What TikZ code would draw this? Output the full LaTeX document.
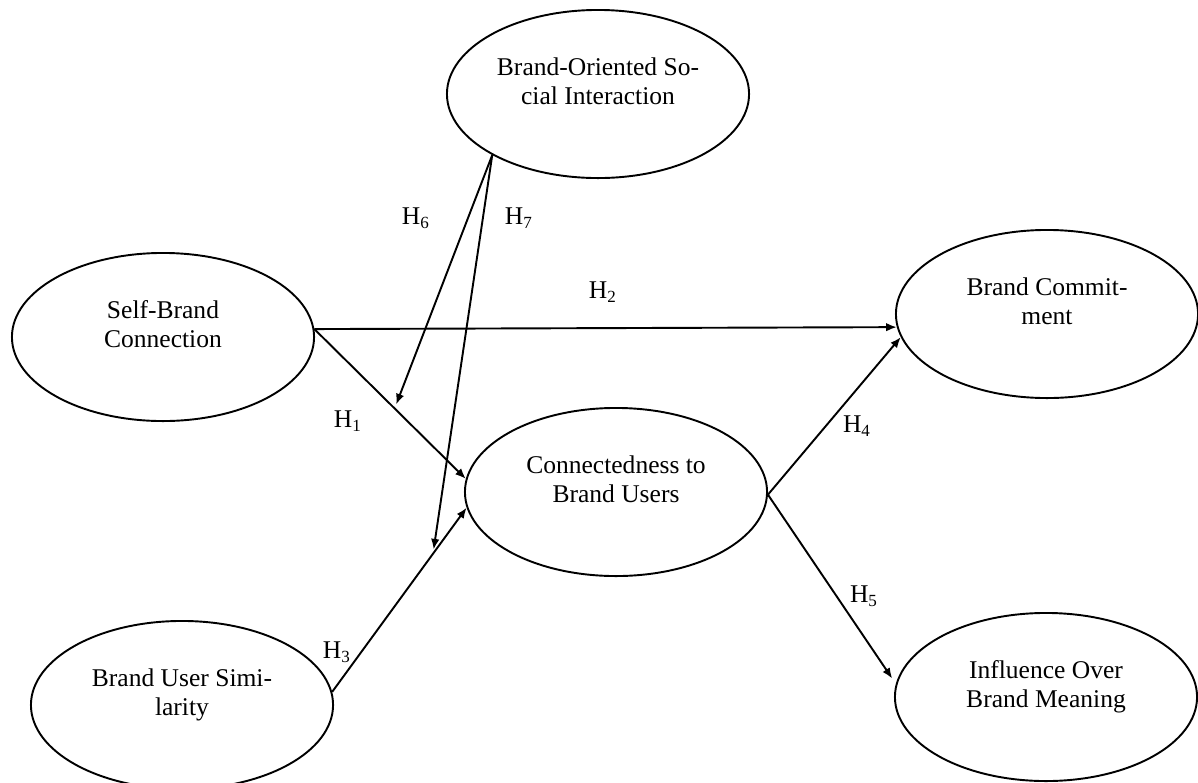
\documentclass[tikz,border=0pt]{standalone}
\usepackage{fontspec}
\setmainfont{Liberation Serif}
\usepackage{tikz}
\usetikzlibrary{arrows.meta,shapes}

\begin{document}
\begin{tikzpicture}[x=0.47pt, y=-0.47pt, line width=0.9pt,
    construct/.style={draw, ellipse, minimum width=142pt, minimum height=79pt,
        inner sep=0pt, align=center, text depth=12pt,
        font=\fontsize{12}{13.4}\selectfont},
    hypline/.style={-{Latex[length=5pt,width=4pt]}},
    hyp/.style={font=\fontsize{12}{14}\selectfont}]
    \useasboundingbox (0,0) rectangle (1198,782);
    % constructs
    \node[construct] (bosi) at (598,94) {Brand-Oriented So-\\cial Interaction};
    \node[construct] (sbc) at (163,337) {Self-Brand\\Connection};
    \node[construct] (bc) at (1047,314) {Brand Commit-\\ment};
    \node[construct] (cbu) at (616,492) {Connectedness to\\Brand Users};
    \node[construct] (bus) at (182,705) {Brand User Simi-\\larity};
    \node[construct] (iobm) at (1046,697) {Influence Over\\Brand Meaning};
    % hypotheses
    \draw[hypline] (sbc.3) -- (cbu.175);
    \draw[hypline] (sbc.3) -- (bc.185);
    \draw[hypline] (bus.5) -- (cbu.186);
    \draw[hypline] (cbu.-1) -- (bc.189);
    \draw[hypline, shorten >=3pt] (cbu.-1) -- (iobm.175);
    % moderation
    \path (sbc.3) -- (cbu.175) coordinate[pos=0.53] (m1);
    \path (bus.5) -- (cbu.186) coordinate[pos=0.75] (m2);
    \draw[hypline, shorten >=2pt] (bosi.210) -- (m1);
    \draw[hypline, shorten >=2pt] (bosi.210) -- (m2);
    \foreach \n/\x/\y in {1/348/421, 2/603/292, 3/337/652, 4/857/426,
        5/864/596, 6/416/218, 7/519/218}
        \node[hyp] (h\n) at (\x,\y) {H\textsubscript{\n}};
\end{tikzpicture}
\end{document}
